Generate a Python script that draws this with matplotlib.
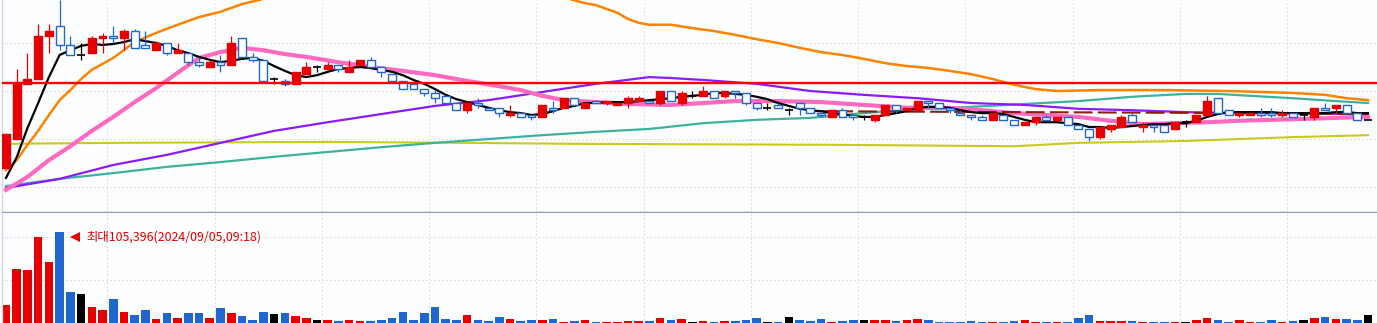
import matplotlib.pyplot as plt
import numpy as np

# 3분봉 시세 (원), 128개 봉
opens = [2840, 2900, 3015, 3025, 3115, 3135, 3095, 3075, 3080, 3110,
         3115, 3110, 3125, 3095, 3085, 3100, 3080, 3080, 3060, 3050,
         3060, 3055, 3110, 3070, 3065, 3025, 3020, 3015, 3035, 3050,
         3045, 3055, 3040, 3055, 3065, 3050, 3035, 3020, 3015, 3005,
         2995, 2990, 2975, 2960, 2975, 2965, 2965, 2950, 2955, 2950,
         2945, 2965, 2965, 2985, 2965, 2980, 2975, 2970, 2975, 2980,
         2980, 2975, 3000, 2975, 2990, 2990, 3000, 2990, 3000, 2995,
         2975, 2965, 2970, 2960, 2975, 2965, 2955, 2945, 2960, 2950,
         2945, 2940, 2950, 2970, 2960, 2960, 2980, 2975, 2965, 2955,
         2950, 2945, 2940, 2950, 2940, 2930, 2935, 2945, 2940, 2945,
         2930, 2920, 2905, 2920, 2925, 2950, 2925, 2930, 2930, 2920,
         2935, 2935, 2950, 2985, 2960, 2950, 2950, 2955, 2955, 2950,
         2955, 2950, 2945, 2965, 2965, 2970, 2955, 2940]
highs = [2910, 3045, 3080, 3140, 3140, 3190, 3115, 3100, 3115, 3120,
         3135, 3130, 3130, 3125, 3105, 3100, 3100, 3080, 3070, 3065,
         3075, 3115, 3110, 3080, 3065, 3030, 3025, 3040, 3060, 3055,
         3060, 3055, 3065, 3065, 3070, 3050, 3035, 3020, 3020, 3005,
         3005, 2990, 2975, 2980, 2985, 2965, 2965, 2970, 2955, 2950,
         2970, 2980, 2985, 2985, 2975, 2980, 2980, 2975, 2990, 2990,
         2980, 3000, 3000, 3000, 3000, 3010, 3000, 3000, 3000, 2995,
         2975, 2975, 2975, 2965, 2975, 2965, 2955, 2960, 2965, 2950,
         2950, 2950, 2970, 2970, 2965, 2980, 2980, 2975, 2965, 2960,
         2950, 2950, 2955, 2950, 2940, 2935, 2945, 2950, 2945, 2945,
         2930, 2920, 2925, 2930, 2950, 2955, 2935, 2930, 2930, 2935,
         2940, 2950, 2990, 2985, 2960, 2955, 2955, 2965, 2965, 2960,
         2955, 2955, 2965, 2975, 2970, 2970, 2955, 2940]
lows = [2840, 2900, 3015, 3025, 3080, 3085, 3075, 3065, 3080, 3080,
        3100, 3085, 3090, 3090, 3085, 3075, 3080, 3055, 3050, 3050,
        3040, 3055, 3070, 3060, 3020, 3015, 3010, 3015, 3035, 3040,
        3045, 3040, 3040, 3055, 3050, 3030, 3020, 3005, 3005, 2990,
        2975, 2975, 2960, 2955, 2965, 2960, 2945, 2945, 2945, 2940,
        2945, 2955, 2965, 2970, 2965, 2975, 2970, 2970, 2965, 2980,
        2975, 2970, 2980, 2970, 2985, 2990, 2985, 2985, 2985, 2970,
        2960, 2960, 2965, 2950, 2950, 2955, 2945, 2945, 2945, 2940,
        2940, 2935, 2950, 2955, 2960, 2960, 2965, 2965, 2955, 2950,
        2940, 2940, 2940, 2940, 2930, 2930, 2930, 2940, 2940, 2930,
        2920, 2895, 2900, 2915, 2925, 2935, 2915, 2915, 2915, 2920,
        2925, 2935, 2950, 2955, 2950, 2945, 2950, 2945, 2945, 2945,
        2945, 2940, 2940, 2960, 2955, 2955, 2940, 2940]
closes = [2910, 3015, 3025, 3115, 3125, 3095, 3075, 3075, 3110, 3115,
          3110, 3125, 3090, 3090, 3100, 3080, 3085, 3060, 3055, 3060,
          3055, 3100, 3070, 3065, 3020, 3025, 3015, 3040, 3050, 3050,
          3055, 3045, 3050, 3065, 3050, 3040, 3020, 3005, 3005, 2995,
          2985, 2975, 2960, 2975, 2970, 2960, 2955, 2955, 2945, 2945,
          2970, 2960, 2985, 2970, 2975, 2975, 2980, 2975, 2985, 2985,
          2975, 3000, 2980, 2995, 2990, 3000, 2985, 3000, 2995, 2975,
          2965, 2965, 2965, 2960, 2965, 2955, 2950, 2960, 2945, 2945,
          2945, 2950, 2970, 2960, 2965, 2980, 2975, 2965, 2960, 2950,
          2945, 2940, 2955, 2940, 2930, 2935, 2945, 2940, 2945, 2930,
          2920, 2905, 2925, 2930, 2945, 2935, 2930, 2925, 2915, 2935,
          2935, 2950, 2980, 2955, 2950, 2955, 2955, 2950, 2950, 2955,
          2945, 2950, 2965, 2960, 2970, 2955, 2940, 2940]
volumes = [20800, 62900, 61400, 99600, 70600, 105396, 35900, 33600, 18500, 15100,
           27800, 12700, 9300, 15100, 4600, 11600, 5800, 11600, 11600, 5800,
           17400, 11600, 8100, 3500, 12700, 10400, 11600, 8100, 5800, 3500,
           3500, 2300, 3500, 2300, 2300, 3500, 5800, 12700, 3500, 11600,
           18500, 4600, 3500, 9300, 3500, 2300, 6900, 4600, 2300, 3500,
           3500, 4600, 1200, 2300, 3500, 1200, 1200, 1200, 2300, 2300,
           2300, 5800, 3500, 4600, 1200, 2300, 1200, 2300, 2300, 3500,
           5800, 1200, 1200, 6900, 3500, 2300, 4600, 1200, 2300, 3500,
           3500, 3500, 3500, 2300, 3500, 4600, 3500, 1200, 1200, 1200,
           2300, 1200, 1200, 1200, 2300, 3500, 1200, 1200, 1200, 1200,
           5800, 9300, 2300, 2300, 2300, 2300, 1200, 1200, 1200, 1200,
           1200, 3500, 5800, 3500, 1200, 3500, 1200, 1200, 3500, 1200,
           2300, 3500, 5800, 6900, 4600, 4600, 3500, 9300]

# 이동평균선
ma5 = [2819, 2862, 2923, 2975, 3029, 3075, 3085, 3094, 3098, 3096,
       3098, 3102, 3108, 3104, 3100, 3094, 3085, 3079, 3071, 3065,
       3060, 3063, 3067, 3069, 3063, 3052, 3042, 3033, 3029, 3033,
       3040, 3046, 3048, 3050, 3048, 3044, 3040, 3033, 3023, 3015,
       3004, 2992, 2983, 2977, 2971, 2965, 2960, 2956, 2954, 2950,
       2952, 2958, 2965, 2969, 2975, 2975, 2977, 2977, 2977, 2979,
       2981, 2983, 2985, 2988, 2990, 2992, 2996, 2996, 2994, 2992,
       2988, 2983, 2975, 2969, 2963, 2960, 2958, 2954, 2952, 2948,
       2946, 2946, 2950, 2954, 2958, 2965, 2967, 2967, 2965, 2960,
       2956, 2954, 2954, 2952, 2946, 2940, 2935, 2935, 2935, 2933,
       2931, 2925, 2925, 2923, 2925, 2927, 2929, 2931, 2931, 2933,
       2933, 2938, 2946, 2952, 2956, 2956, 2956, 2956, 2956, 2954,
       2954, 2954, 2954, 2954, 2956, 2956, 2954, 2954]

pink_x = [0, 2, 4, 6, 8, 10, 12, 14, 16, 18, 20, 22, 24, 26, 28, 31, 34, 37, 40,
          43, 46, 48, 50, 52, 55, 58, 62, 65, 68, 72, 76, 80, 84, 88, 91, 94,
          97, 100, 103, 106, 109, 112, 115, 118, 121, 124, 127]
pink_y = [2794, 2821, 2856, 2885, 2917, 2946, 2977, 3006, 3038, 3069, 3081, 3090,
          3085, 3077, 3071, 3060, 3050, 3042, 3033, 3021, 3010, 3002, 2990, 2981,
          2977, 2973, 2971, 2975, 2979, 2979, 2977, 2971, 2965, 2965, 2960, 2954,
          2950, 2946, 2938, 2931, 2933, 2935, 2938, 2940, 2942, 2944, 2946]

orange_x = [0, 1, 2, 3, 4, 5, 6, 7, 8, 10, 12, 14, 16, 18, 20, 22, 24, 28, 33, 38,
            43, 48, 52, 53, 54, 55, 56, 57, 58, 59, 60, 62, 64, 66, 68, 70, 72, 74,
            76, 78, 80, 82, 84, 86, 88, 90, 92, 94, 96, 98, 102, 108, 114, 117, 120,
            123, 125, 127]
orange_y = [2835, 2856, 2888, 2917, 2950, 2981, 3002, 3025, 3044, 3069, 3102, 3121,
            3138, 3154, 3165, 3181, 3192, 3215, 3235, 3246, 3242, 3221, 3196, 3189,
            3183, 3179, 3171, 3163, 3150, 3142, 3138, 3138, 3131, 3125, 3117, 3108,
            3100, 3090, 3081, 3075, 3067, 3058, 3052, 3048, 3042, 3035, 3025, 3013,
            3004, 3000, 3002, 3002, 3000, 2998, 2996, 2992, 2985, 2981]

purple_x = [0, 5, 10, 15, 20, 25, 30, 35, 40, 45, 50, 55, 60, 62, 65, 70, 75, 80,
            85, 90, 95, 100, 105, 110, 115, 120, 125, 127]
purple_y = [2798, 2817, 2846, 2867, 2892, 2917, 2935, 2952, 2969, 2981, 2998, 3015,
            3029, 3027, 3023, 3015, 3000, 2992, 2985, 2975, 2971, 2963, 2960, 2956,
            2954, 2954, 2952, 2950]

teal_x = [0, 5, 10, 15, 20, 25, 30, 35, 40, 45, 50, 55, 60, 65, 70, 75, 80, 85,
          90, 95, 100, 105, 110, 113, 116, 120, 124, 127]
teal_y = [2802, 2817, 2829, 2842, 2852, 2863, 2873, 2883, 2892, 2900, 2908, 2915,
          2921, 2933, 2940, 2944, 2954, 2963, 2967, 2973, 2979, 2988, 2994, 2994,
          2990, 2985, 2979, 2975]

olive_x = [0, 10, 20, 30, 43, 53, 77, 94, 100, 105, 110, 115, 120, 127]
olive_y = [2890, 2892, 2893, 2894, 2892, 2890, 2888, 2885, 2892, 2894, 2896, 2900,
           2904, 2908]

brown_x = [75, 95, 116, 127]
brown_y = [2958, 2956, 2954, 2952]

ref_price = 3017
max_time = '2024/09/05,09:18'

UP, DOWN, FLAT = '#e60000', '#1f66d1', '#000000'
BG = '#fdfeff'
GRID = '#c6c6c6'


def main():
    n = len(closes)
    idx = np.arange(n)
    o, h, l, c = map(np.array, (opens, highs, lows, closes))
    cols = np.where(c > o, UP, np.where(c < o, DOWN, FLAT))

    fig = plt.figure(figsize=(13.77, 3.23), dpi=100, facecolor=BG)
    ax = fig.add_axes([2 / 1377, 111 / 323, 1375 / 1377, 212 / 323], facecolor=BG)
    axv = fig.add_axes([2 / 1377, 0, 1375 / 1377, 110 / 323], facecolor=BG)

    xlim = (-0.373, 127.84)
    vgrid = np.arange(9.45, n, 10)
    for a in (ax, axv):
        a.set_xlim(*xlim)
        for s in a.spines.values():
            s.set_visible(False)
        a.spines['left'].set_visible(True)
        a.spines['left'].set_color('#d4d7dd')
        a.spines['left'].set_linewidth(1.0)
        a.set_xticks([])
        a.set_yticks([])
        a.vlines(vgrid, 0, 1, transform=a.get_xaxis_transform(), colors=GRID,
                 linewidth=0.72, linestyles=(0, (1, 3)), zorder=0)
    ax.spines['bottom'].set_visible(True)
    ax.spines['bottom'].set_color('#8e9db3')
    ax.spines['bottom'].set_linewidth(1.0)

    # 가격 패널
    ax.set_ylim(2748, 3189.6)
    ax.hlines([2800, 2900, 3000, 3100], *xlim, colors=GRID, linewidth=0.72,
              linestyles=(0, (1, 3)), zorder=0)

    ax.plot(olive_x, olive_y, color='#c9c920', lw=1.5, zorder=2)
    ax.plot(teal_x, teal_y, color='#3db39e', lw=1.6, zorder=2.1)
    ax.plot(purple_x, purple_y, color='#8c1aff', lw=1.6, zorder=2.2)
    ax.plot(orange_x, orange_y, color='#ff8200', lw=1.8, zorder=2.3)
    ax.plot(pink_x, pink_y, color='#ff6ac1', lw=3.0, zorder=2.4)
    ax.plot(brown_x, brown_y, color='#8b1e0a', lw=1.5, dashes=(9, 2.5), zorder=2.5)
    ax.plot(idx, ma5, color='black', lw=1.6, zorder=2.7)

    # 캔들
    ax.vlines(idx, l, h, colors=cols, linewidth=0.9, zorder=3)
    body = c != o
    bw = 0.74
    faces = np.where(cols == DOWN, BG, cols)
    ax.bar(idx[body], np.abs(c - o)[body], bottom=np.minimum(o, c)[body], width=bw,
           color=faces[body], edgecolor=cols[body], linewidth=1.0, zorder=3.2)
    flat = ~body
    ax.hlines(c[flat], idx[flat] - bw / 2, idx[flat] + bw / 2, colors=cols[flat],
              linewidth=1.2, zorder=3.2)

    ax.axhline(ref_price, color='#ff0000', lw=1.7, zorder=3.5)

    # 거래량 패널
    vol = np.array(volumes)
    axv.set_ylim(0, 127400)
    axv.hlines([50000, 100000], *xlim, colors=GRID, linewidth=0.72,
               linestyles=(0, (1, 3)), zorder=0)
    axv.bar(idx, vol, width=0.8, color=cols, linewidth=0, zorder=2)

    k = int(np.argmax(vol))
    vmax = vol[k]
    axv.plot(k + 1.48, vmax * 0.95, marker='<', ms=6.5, color=UP, mew=0, zorder=3)
    axv.text(k + 2.5, vmax * 0.95, f'최대{vmax:,}({max_time})', color=UP,
             fontsize=8.9, va='center', ha='left',
             family=['Noto Sans CJK KR', 'DejaVu Sans'], zorder=3)

    fig.savefig('out.png', dpi=100, facecolor=BG)


main()
